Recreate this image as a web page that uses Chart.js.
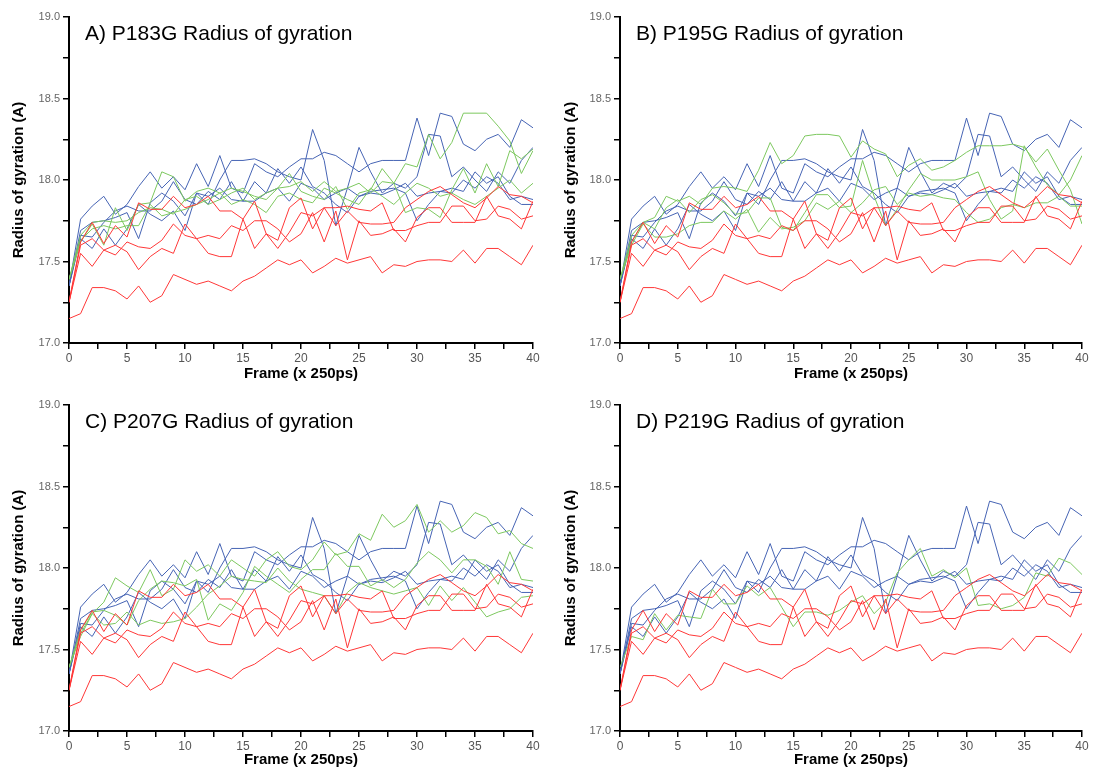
<!DOCTYPE html>
<html>
<head>
<meta charset="utf-8">
<script src="https://cdn.jsdelivr.net/npm/chart.js@4.4.1/dist/chart.umd.min.js"></script>
<style>
    body { margin: 0; background: #fff; overflow: hidden; width: 1093px; height: 769px; position: relative; }
    .panel { position: absolute; }
</style>
</head>
<body>
<div class="panel" style="left:0;top:0"><canvas id="chartA" width="546" height="383"></canvas></div>
<div class="panel" style="left:552px;top:0"><canvas id="chartB" width="541" height="383"></canvas></div>
<div class="panel" style="left:0;top:388px"><canvas id="chartC" width="546" height="381"></canvas></div>
<div class="panel" style="left:552px;top:388px"><canvas id="chartD" width="541" height="381"></canvas></div>
<script>
// frames 0..40 (x 250ps)
const frames = [0,1,2,3,4,5,6,7,8,9,10,11,12,13,14,15,16,17,18,19,20,21,22,23,24,25,26,27,28,29,30,31,32,33,34,35,36,37,38,39,40];
const yTicks = [17.0, 17.5, 18.0, 18.5, 19.0];

// red runs (same in all panels)
const red1 = [17.15,17.18,17.34,17.34,17.32,17.27,17.35,17.25,17.29,17.42,17.39,17.36,17.38,17.35,17.32,17.38,17.41,17.46,17.51,17.48,17.51,17.43,17.47,17.52,17.49,17.51,17.53,17.43,17.48,17.47,17.50,17.51,17.51,17.50,17.57,17.49,17.58,17.58,17.53,17.48,17.60];
const red2 = [17.25,17.62,17.74,17.61,17.72,17.65,17.86,17.82,17.82,17.90,17.83,17.85,17.90,17.81,17.81,17.76,17.87,17.67,17.58,17.68,17.80,17.78,17.83,17.72,17.81,17.74,17.73,17.73,17.74,17.83,17.88,17.93,17.96,17.91,17.86,17.83,17.89,17.96,17.91,17.90,17.86];
const red3 = [17.25,17.60,17.64,17.57,17.54,17.62,17.59,17.58,17.63,17.73,17.66,17.64,17.66,17.64,17.72,17.69,17.75,17.75,17.70,17.62,17.67,17.80,17.62,17.81,17.51,17.75,17.66,17.67,17.70,17.62,17.77,17.83,17.83,17.74,17.74,17.74,17.90,17.78,17.76,17.70,17.87];
const red4 = [17.25,17.55,17.47,17.57,17.60,17.56,17.45,17.53,17.58,17.55,17.73,17.64,17.55,17.53,17.53,17.76,17.58,17.67,17.63,17.83,17.89,17.70,17.83,17.83,17.84,17.82,17.81,17.86,17.69,17.69,17.72,17.74,17.74,17.84,17.84,17.75,17.76,17.84,17.82,17.76,17.78];

// blue runs (same in all panels)
const blue1 = [17.35,17.76,17.84,17.90,17.79,17.85,17.96,18.05,17.95,18.02,17.94,18.10,17.96,18.15,17.95,17.92,18.10,18.05,18.02,18.08,18.13,18.13,18.17,18.15,18.10,18.05,18.10,18.12,18.12,18.12,18.38,18.15,18.41,18.39,18.22,18.18,18.25,18.28,18.20,18.37,18.32];
const blue2 = [17.35,17.69,17.74,17.75,17.77,17.80,17.64,17.86,17.92,17.87,17.78,17.92,17.85,18.00,18.12,18.12,18.13,18.10,18.05,18.02,18.00,18.31,18.12,17.72,17.95,18.20,18.05,17.92,17.98,17.95,18.02,18.28,18.27,18.02,18.08,18.00,17.93,18.05,17.98,18.12,18.20];
const blue3 = [17.35,17.66,17.65,17.74,17.81,17.84,17.81,17.81,17.87,17.99,17.88,17.85,17.93,17.88,17.99,17.87,17.99,17.92,17.95,17.87,17.98,17.95,17.88,17.92,17.95,17.90,17.92,17.91,17.94,17.98,17.90,17.92,17.93,17.92,18.00,17.95,18.02,17.98,17.88,17.90,17.88];
const blue4 = [17.35,17.64,17.58,17.70,17.60,17.70,17.85,17.79,17.75,17.81,17.69,17.92,17.90,17.95,17.88,17.87,17.87,17.92,18.07,17.98,18.08,17.96,17.92,17.85,17.80,17.90,17.93,17.94,17.95,17.92,17.75,17.85,17.93,17.95,17.93,18.05,17.98,18.02,17.90,17.85,17.85];

// green runs, one set per mutant
const greenA1 = [17.39,17.62,17.73,17.60,17.83,17.69,17.85,17.86,18.05,18.02,17.87,17.93,17.95,17.92,17.95,17.93,17.90,17.88,17.95,18.04,17.93,17.90,17.88,17.96,17.82,17.92,17.94,18.07,17.98,17.80,17.83,17.82,17.77,17.94,18.07,17.92,18.10,17.96,18.18,18.13,18.19];
const greenA2 = [17.39,17.66,17.74,17.75,17.74,17.75,17.80,17.83,17.82,17.79,17.88,17.90,17.85,17.88,17.92,17.95,17.88,17.92,17.95,17.96,17.99,17.93,17.99,17.93,17.95,17.98,17.92,17.99,17.98,18.10,18.08,18.28,18.13,18.23,18.41,18.41,18.41,18.33,18.24,18.04,18.18];
const greenA3 = [17.39,17.63,17.70,17.72,17.70,17.72,17.72,17.85,17.78,17.80,17.82,17.85,17.88,17.92,17.85,17.88,17.85,17.80,17.90,17.92,17.88,17.86,17.95,17.92,17.88,17.85,17.95,17.90,17.85,17.92,17.98,17.95,17.90,17.92,17.88,17.85,17.90,17.95,18.00,17.92,17.98];

const greenB1 = [17.39,17.66,17.74,17.77,17.90,17.87,17.90,17.85,17.95,17.96,17.95,17.93,18.06,18.23,18.10,18.15,18.27,18.28,18.28,18.27,18.14,18.24,18.19,18.16,18.02,18.09,18.13,18.06,18.08,18.12,18.17,18.21,18.21,18.21,18.22,18.20,18.11,18.19,18.06,17.94,17.73];
const greenB2 = [17.39,17.62,17.74,17.70,17.83,17.88,17.80,17.88,17.91,17.86,17.79,17.80,17.89,17.89,17.71,17.69,17.80,17.91,17.91,17.83,17.84,18.12,17.90,17.72,17.82,17.94,18.04,18.00,18.00,18.00,18.02,18.05,17.88,17.76,17.81,18.21,18.08,17.97,17.91,18.00,18.15];
const greenB3 = [17.39,17.60,17.73,17.65,17.65,17.67,17.72,17.74,17.74,17.81,17.76,17.82,17.68,17.77,17.70,17.71,17.75,17.86,17.82,17.87,17.80,17.86,17.94,17.96,17.85,17.92,17.90,17.91,17.89,17.88,17.80,17.74,17.76,17.83,17.85,17.83,17.86,17.86,17.90,17.84,17.84];

const greenC1 = [17.39,17.58,17.72,17.79,17.94,17.89,17.85,17.99,17.83,17.87,18.05,17.98,18.02,17.95,18.05,18.00,17.95,18.05,18.10,18.01,17.99,18.05,18.16,18.08,18.10,18.21,18.17,18.33,18.25,18.29,18.39,18.22,18.29,18.22,18.26,18.34,18.31,18.21,18.23,18.15,18.12];
const greenC2 = [17.39,17.62,17.73,17.74,17.71,17.65,17.80,17.87,17.92,17.91,17.89,17.93,17.68,17.78,17.74,17.85,18.01,17.95,17.90,17.85,17.93,17.99,17.99,18.09,18.01,18.01,17.89,17.93,17.88,17.93,18.03,18.10,18.05,17.97,18.05,18.05,18.01,17.90,18.10,17.93,17.92];
const greenC3 = [17.39,17.60,17.72,17.65,17.66,17.73,17.65,17.68,17.66,17.67,17.69,17.76,17.84,17.89,17.95,17.93,17.92,17.91,18.00,17.92,17.87,17.85,17.83,17.72,17.85,17.91,17.88,17.86,17.84,17.86,17.88,17.77,17.89,17.80,17.88,17.79,17.70,17.73,17.75,17.82,17.83];

const greenD1 = [17.39,17.58,17.56,17.72,17.62,17.71,17.70,17.69,17.87,17.78,17.78,17.89,17.83,17.88,17.76,17.64,17.73,17.73,17.71,17.74,17.79,17.83,17.72,17.79,17.97,18.05,18.12,17.95,17.99,17.94,18.00,17.77,17.78,17.75,17.77,17.82,17.97,17.95,18.06,18.03,17.96];

const RED = 'rgb(255,55,55)';
const BLUE = 'rgb(70,100,180)';
const GREEN = 'rgb(125,200,95)';

function line(values, color) {
    return {
        data: values.map((v, i) => ({ x: frames[i], y: v })),
        borderColor: color,
        borderWidth: 1,
        pointRadius: 0,
        tension: 0,
        fill: false
    };
}

const panelTitle = {
    id: 'panelTitle',
    afterDraw(chart, args, opts) {
        const { ctx, chartArea } = chart;
        ctx.save();
        ctx.font = '21px "Liberation Sans", Arial, sans-serif';
        ctx.fillStyle = '#000';
        ctx.textBaseline = 'alphabetic';
        ctx.fillText(opts.text, chartArea.left + 16, chartArea.top + 23);
        ctx.restore();
    }
};

function makePanel(id, title, greens, yWidth, padRight, xHeight) {
    const datasets = [
        line(red1, RED), line(red2, RED), line(red3, RED), line(red4, RED),
        ...greens.map(g => line(g, GREEN)),
        line(blue1, BLUE), line(blue2, BLUE), line(blue3, BLUE), line(blue4, BLUE)
    ];
    new Chart(document.getElementById(id), {
        type: 'line',
        data: { datasets: datasets },
        options: {
            responsive: false,
            animation: false,
            layout: { padding: { top: 17, right: padRight, left: 0, bottom: 0 } },
            plugins: {
                legend: { display: false },
                tooltip: { enabled: false },
                panelTitle: { text: title }
            },
            scales: {
                x: {
                    type: 'linear',
                    min: 0,
                    max: 40,
                    afterFit(s) { s.height = xHeight; },
                    ticks: {
                        stepSize: 2.5,
                        autoSkip: false,
                        maxRotation: 0,
                        padding: 2,
                        color: '#555',
                        font: { family: '"Liberation Sans", Arial, sans-serif', size: 12 },
                        callback: v => (v % 5 === 0 ? String(v) : '')
                    },
                    grid: { drawOnChartArea: false, drawTicks: true, tickLength: 6, color: '#000', lineWidth: 1.5 },
                    border: { color: '#000', width: 2 },
                    title: {
                        display: true,
                        text: 'Frame (x 250ps)',
                        color: '#000',
                        padding: { top: 0, bottom: 0 },
                        font: { family: '"Liberation Sans", Arial, sans-serif', size: 15, weight: 'bold' }
                    }
                },
                y: {
                    min: yTicks[0],
                    max: yTicks[yTicks.length - 1],
                    afterFit(s) { s.width = yWidth; },
                    ticks: {
                        stepSize: 0.25,
                        autoSkip: false,
                        padding: 3,
                        color: '#666',
                        font: { family: '"Liberation Sans", Arial, sans-serif', size: 11 },
                        callback: v => {
                            const hit = yTicks.find(t => Math.abs(t - v) < 1e-6);
                            return hit !== undefined ? hit.toFixed(1) : '';
                        }
                    },
                    grid: { drawOnChartArea: false, drawTicks: true, tickLength: 6, color: '#000', lineWidth: 1.5 },
                    border: { color: '#000', width: 2 },
                    title: {
                        display: true,
                        text: 'Radius of gyration (A)',
                        color: '#000',
                        padding: { top: 10, bottom: 0 },
                        font: { family: '"Liberation Sans", Arial, sans-serif', size: 15, weight: 'bold' }
                    }
                }
            }
        },
        plugins: [panelTitle]
    });
}

makePanel('chartA', 'A) P183G Radius of gyration', [greenA1, greenA2, greenA3], 69, 13, 40);
makePanel('chartB', 'B) P195G Radius of gyration', [greenB1, greenB2, greenB3], 68, 11, 40);
makePanel('chartC', 'C) P207G Radius of gyration', [greenC1, greenC2, greenC3], 69, 13, 38);
makePanel('chartD', 'D) P219G Radius of gyration', [greenD1], 68, 11, 38);
</script>
</body>
</html>
